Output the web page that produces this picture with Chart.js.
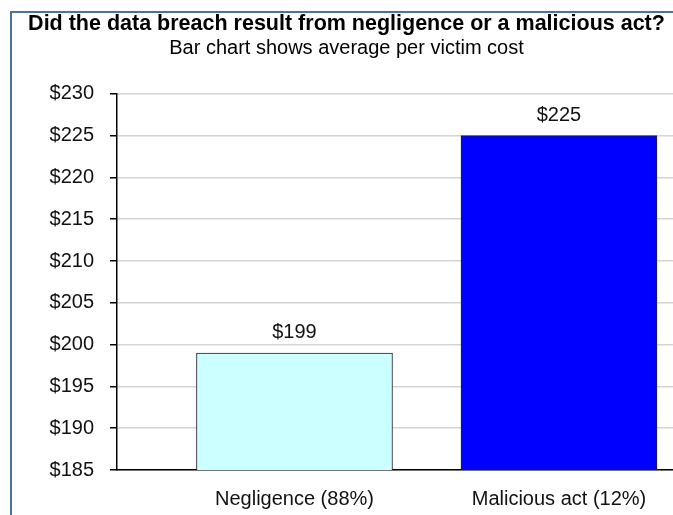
<!DOCTYPE html>
<html>
<head>
<meta charset="utf-8">
<script src="https://cdn.jsdelivr.net/npm/chart.js@4"></script>
<style>
html, body { margin: 0; padding: 0; background: #fff; overflow: hidden; }
#wrap { position: relative; width: 673px; height: 515px; }
#frame { position: absolute; left: 10px; top: 11px; width: 720px; height: 600px;
  border-left: 2px solid #4f6fa0; border-top: 2px solid #4f6fa0; }
canvas { position: absolute; left: 0; top: 0; }
</style>
</head>
<body>
<div id="wrap">
  <div id="frame"></div>
  <canvas id="bar_chart" width="673" height="515"></canvas>
</div>
<script>
const categories = ['Negligence (88%)', 'Malicious act (12%)'];
const avg_cost = [199, 225];
const bar_colors = ['#ccffff', '#0000ff'];
const y_ticks = [185, 190, 195, 200, 205, 210, 215, 220, 225, 230];

const FONT = '"Liberation Sans", Arial, sans-serif';

// dollar values over each bar
const value_labels = {
    id: 'value_labels',
    afterDatasetsDraw(chart) {
        const ctx = chart.ctx;
        const meta = chart.getDatasetMeta(0);
        ctx.save();
        ctx.font = '20px ' + FONT;
        ctx.fillStyle = '#111';
        ctx.textAlign = 'center';
        ctx.textBaseline = 'alphabetic';
        meta.data.forEach((bar, i) => {
            ctx.fillText('$' + avg_cost[i], bar.x, bar.y - 15);
        });
        ctx.restore();
    }
};

const chart = new Chart(document.getElementById('bar_chart'), {
    type: 'bar',
    data: {
        datasets: [{
            data: avg_cost.map((v, i) => ({ x: i, y: v })),
            backgroundColor: bar_colors,
            borderColor: '#222',
            borderWidth: 1,
            borderSkipped: false,
            barThickness: 196
        }]
    },
    options: {
        responsive: false,
        animation: false,
        layout: { padding: { left: 20, right: 0, top: 0, bottom: 0 } },
        plugins: {
            legend: { display: false },
            tooltip: { enabled: false },
            title: {
                display: true,
                text: 'Did the data breach result from negligence or a malicious act?',
                color: '#000',
                font: { family: FONT, size: 21.5, weight: 'bold', lineHeight: 1.2 },
                padding: { top: 11, bottom: 0 }
            },
            subtitle: {
                display: true,
                text: 'Bar chart shows average per victim cost',
                color: '#000',
                font: { family: FONT, size: 20, lineHeight: 1.2 },
                padding: { top: 0, bottom: 33 }
            }
        },
        scales: {
            x: {
                type: 'linear',
                offset: false,
                min: -0.671,
                max: 1.431,
                afterBuildTicks: (scale) => {
                    scale.ticks = categories.map((c, i) => ({ value: i }));
                },
                afterFit: (scale) => { scale.height = 45; },
                ticks: {
                    color: '#111',
                    font: { family: FONT, size: 20 },
                    padding: 17,
                    maxRotation: 0,
                    callback: (v) => categories[v]
                },
                grid: { display: false, drawTicks: false, offset: false },
                border: { display: true, color: '#000', width: 1.5 }
            },
            y: {
                min: y_ticks[0],
                max: y_ticks[y_ticks.length - 1],
                afterBuildTicks: (scale) => {
                    scale.ticks = y_ticks.map(v => ({ value: v }));
                },
                afterFit: (scale) => { scale.width = 97; },
                ticks: {
                    color: '#111',
                    font: { family: FONT, size: 20 },
                    padding: 16,
                    callback: (v) => '$' + v
                },
                grid: {
                    color: '#d4d4d4',
                    lineWidth: 1.5,
                    tickColor: '#000',
                    tickLength: 7,
                    tickWidth: 1.5
                },
                border: { display: true, color: '#000', width: 1.5 }
            }
        }
    },
    plugins: [value_labels]
});
</script>
</body>
</html>
